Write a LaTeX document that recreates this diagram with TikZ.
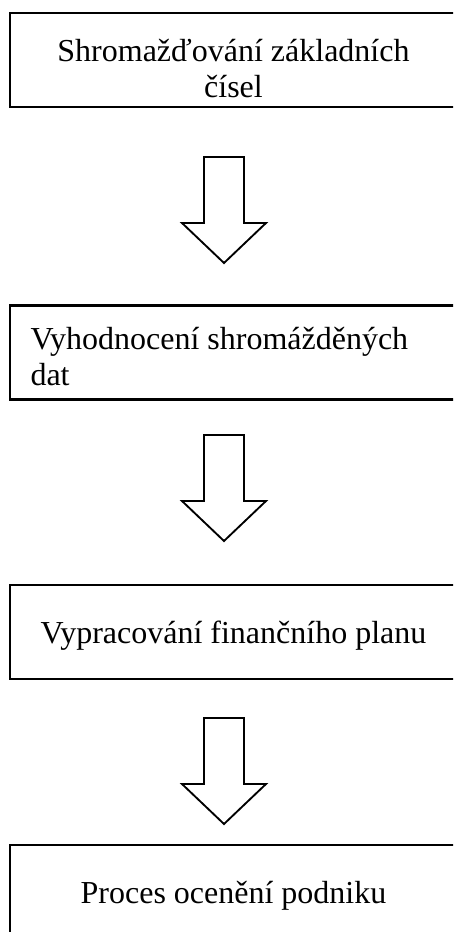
\documentclass[tikz,border=0pt]{standalone}
\usepackage{fontspec}
\setmainfont{Liberation Serif}

\tikzset{
  stage/.style={draw, line width=0.9pt, minimum width=167.6pt, minimum height=35.25pt, inner sep=0pt},
  stagetext/.style={inner sep=0pt, font=\fontsize{12pt}{13.8pt}\selectfont},
  blockarrow/.style={draw, line width=0.7pt, line join=miter}
}

\begin{document}
\begin{tikzpicture}[x=0.375pt, y=-0.375pt]
  \clip (0,0) rectangle (453,932);
  % stages
  \node[stage] (sber) at (233.5,60) {};
  \node[stage] (vyhod) at (233.5,352.5) {};
  \node[stage] (plan) at (233.5,632) {};
  \node[stage] (ocen) at (233.5,892) {};
  % texts (base = last line)
  \node[stagetext, align=center, anchor=base] (sbertext) at (233.5,98) {Shromažďování základních\\čísel};
  \node[stagetext, align=left, anchor=base west] (vyhodtext) at (30,386) {Vyhodnocení shromážděných\\dat};
  \node[stagetext, anchor=base] (plantext) at (233.5,643) {Vypracování finančního planu};
  \node[stagetext, anchor=base] (ocentext) at (233.5,903) {Proces ocenění podniku};
  % block arrows
  \foreach \t in {157,435,718}
    \draw[blockarrow] (204,\t) -- (244,\t) -- (244,\t+66) -- (266,\t+66)
      -- (224,\t+106) -- (182,\t+66) -- (204,\t+66) -- cycle;
\end{tikzpicture}
\end{document}
